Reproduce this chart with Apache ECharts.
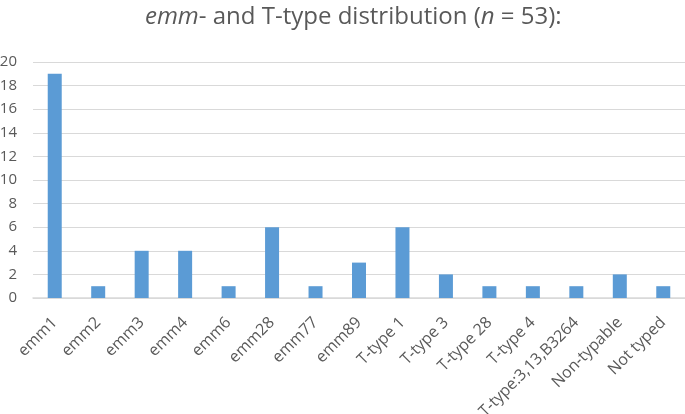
<!DOCTYPE html>
<html><head><meta charset="utf-8">
<script src="https://cdn.jsdelivr.net/npm/echarts@6/dist/echarts.min.js"></script>
<style>html,body{margin:0;padding:0;background:#fff}#c{width:685px;height:414px}</style>
</head><body><div id="c"></div>
<script>
const categories = ["emm1","emm2","emm3","emm4","emm6","emm28","emm77","emm89","T-type 1","T-type 3","T-type 28","T-type 4","T-type:3,13,B3264","Non-typable","Not typed"];
const counts = [19,1,4,4,1,6,1,3,6,2,1,1,1,2,1];
const yTicks = {min:0, max:20, interval:2};

const chart = echarts.init(document.getElementById('c'));
const font = "'Open Sans', 'Liberation Sans', sans-serif";
chart.setOption({
  animation:false,
  title:{
    text:"{i|emm}- and T-type distribution ({i|n} = 53):",
    left:140, top:0,
    textStyle:{fontFamily:font,fontSize:24,fontWeight:'normal',color:'#595959',
      rich:{i:{fontFamily:font,fontSize:24,fontStyle:'italic',color:'#595959'}}}
  },
  grid:{left:33,right:0,top:62,bottom:116,containLabel:false,outerBoundsMode:'none'},
  xAxis:{type:'category',data:categories,
    axisLine:{lineStyle:{color:'#d9d9d9',width:1.5}},
    axisTick:{show:false},
    axisLabel:{rotate:45,interval:0,fontFamily:font,fontSize:16,color:'#595959',margin:22}},
  yAxis:{type:'value',min:yTicks.min,max:yTicks.max,interval:yTicks.interval,
    axisLine:{show:false},axisTick:{show:false},
    splitLine:{lineStyle:{color:'#d9d9d9',width:1}},
    axisLabel:{fontFamily:font,fontSize:15,color:'#595959',margin:16}},
  series:[{type:'bar',data:counts,barWidth:14,itemStyle:{color:'#5b9bd5'}}]
});
</script></body></html>
